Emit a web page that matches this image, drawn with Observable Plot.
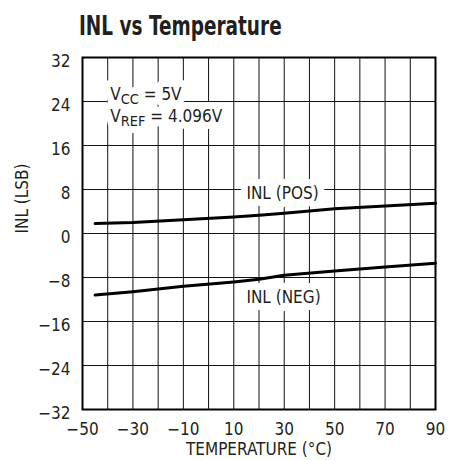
<!DOCTYPE html>
<html><head><meta charset="utf-8">
<script src="https://cdn.jsdelivr.net/npm/d3@7"></script>
<script src="https://cdn.jsdelivr.net/npm/@observablehq/plot@0.6"></script>
<style>
body{margin:0;background:#fff;width:458px;height:460px;overflow:hidden;position:relative;}
#title{position:absolute;left:79px;top:11px;font:bold 26px "DejaVu Sans Condensed","Liberation Sans Narrow",sans-serif;color:#231f20;white-space:nowrap;transform:scaleX(0.79);transform-origin:0 0;}
#chart{position:absolute;left:0;top:0;}
</style></head><body>
<div id="chart"></div>
<div id="title">INL vs Temperature</div>
<script>
const temperature = [-45, -30, -10, 10, 20, 30, 50, 70, 90];
const inlPos = [1.8, 2.0, 2.5, 3.0, 3.3, 3.7, 4.5, 5.0, 5.5];
const inlNeg = [-11.2, -10.6, -9.6, -8.8, -8.3, -7.6, -6.8, -6.1, -5.4];
const xTicks = [-50, -30, -10, 10, 30, 50, 70, 90];
const xGrid = [-50, -40, -30, -20, -10, 0, 10, 20, 30, 40, 50, 60, 70, 80, 90];
const yTicks = [-32, -24, -16, -8, 0, 8, 16, 24, 32];
const labelText = ["V_{CC} = 5V\nV_{REF} = 4.096V", "INL (POS)", "INL (NEG)"];
const labelX = [-39, 15, 15];
const labelY = [23.5, 7.6, -11.4];

const series = [
  ...temperature.map((t, i) => ({series: "POS", t, v: inlPos[i]})),
  ...temperature.map((t, i) => ({series: "NEG", t, v: inlNeg[i]}))
];
const labels = labelText.map((text, i) => ({text, x: labelX[i], y: labelY[i]}));
const fmt = d => d < 0 ? "\u2212" + Math.abs(d) : String(d);
const ink = "#231f20";
const fs = 17;
const labelOpts = {x: "x", y: "y", text: "text", textAnchor: "start", lineAnchor: "middle", fontSize: fs, lineHeight: 1.25};

const chart = Plot.plot({
  width: 458,
  height: 460,
  marginLeft: 82,
  marginRight: 23,
  marginTop: 57,
  marginBottom: 51,
  style: {fontFamily: '"DejaVu Sans Condensed","Liberation Sans Narrow",sans-serif', fontSize: fs + "px", color: ink, background: "#fff"},
  x: {domain: [-50, 90]},
  y: {domain: [-32, 32]},
  marks: [
    Plot.gridX(xGrid, {stroke: "#111", strokeOpacity: 1, strokeWidth: 1}),
    Plot.gridY(yTicks, {stroke: "#111", strokeOpacity: 1, strokeWidth: 1}),
    Plot.text(labels, {...labelOpts, fill: "white", stroke: "white", strokeWidth: 14, strokeLinejoin: "round"}),
    Plot.text(labels, {...labelOpts, fill: ink}),
    Plot.line(series, {x: "t", y: "v", z: "series", stroke: "#000", strokeWidth: 3}),
    Plot.frame({stroke: "#000", strokeWidth: 2}),
    Plot.axisX(xTicks, {tickSize: 0, tickPadding: 13, tickFormat: fmt, fontSize: fs, label: null}),
    Plot.axisY(yTicks, {tickSize: 0, tickPadding: 12, tickFormat: fmt, fontSize: fs, dy: 4, label: null}),
    Plot.text(["INL (LSB)"], {frameAnchor: "left", rotate: -90, dx: -60, fontSize: fs, fill: ink}),
    Plot.text(["TEMPERATURE (\u00B0C)"], {frameAnchor: "bottom", dy: 45, fontSize: fs, fill: ink})
  ]
});

// render subscripts written as _{..}
const NS = "http://www.w3.org/2000/svg";
chart.querySelectorAll("text, tspan").forEach(el => {
  if (el.children.length === 0 && /_\{/.test(el.textContent)) {
    const s = el.textContent;
    el.textContent = "";
    let shifted = false;
    for (const p of s.split(/(_\{[^}]*\})/)) {
      if (!p) continue;
      const t = document.createElementNS(NS, "tspan");
      const m = p.match(/^_\{(.*)\}$/);
      if (m) { t.textContent = m[1]; t.setAttribute("dy", "4"); t.setAttribute("font-size", "0.85em"); shifted = true; }
      else { t.textContent = p; if (shifted) { t.setAttribute("dy", "-4"); shifted = false; } }
      el.appendChild(t);
    }
  }
});
document.getElementById("chart").appendChild(chart);
</script>
</body></html>
